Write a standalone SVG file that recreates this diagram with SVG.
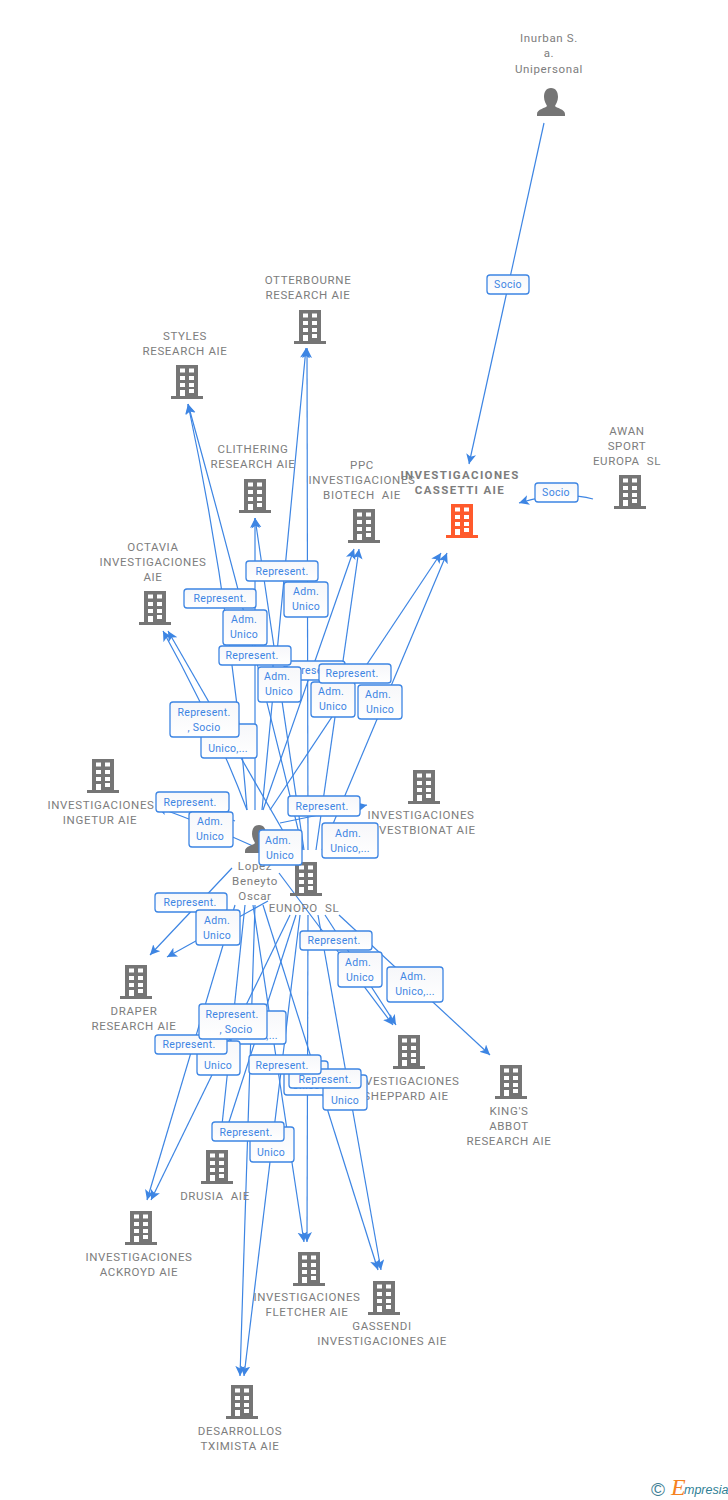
<svg xmlns="http://www.w3.org/2000/svg" width="728" height="1500" viewBox="0 0 728 1500">
<style>
.e{fill:none;stroke:#3d85e3;stroke-width:1.2;marker-end:url(#a)}
.n{font:11.5px Roboto,"Liberation Sans",sans-serif;fill:#7d7d7d;text-anchor:middle;letter-spacing:.65px}
.b{font-weight:700;letter-spacing:1.35px}
.r{fill:url(#g);stroke:#3d85e3;stroke-width:1.3}
.l{font:10.5px Roboto,"Liberation Sans",sans-serif;fill:#3d85e3;text-anchor:middle;letter-spacing:.3px}
</style>
<defs>
<linearGradient id="g" x1="0" y1="0" x2="0" y2="1"><stop offset="0" stop-color="#f6f7fa"/><stop offset="1" stop-color="#fff"/></linearGradient>
<marker id="a" markerUnits="userSpaceOnUse" markerWidth="12" markerHeight="12" refX="10" refY="5" orient="auto"><path d="M0 0L10 5L0 10L2.5 5Z" fill="#3d85e3"/></marker>
<g id="b"><path fill-rule="evenodd" d="M5 0H27V31H32V34H0V31H5ZM9 3.500V7.500H14V3.500ZM18 3.500V7.500H23V3.500ZM9 11V15H14V11ZM18 11V15H23V11ZM9 18V22H14V18ZM18 18V22H23V18ZM9 25V31H14V25ZM18 24V28H23V24Z"/></g>
<g id="p"><path d="M14 0C19 0 21 4 21 9C21 13 19 16 18 18C19 20 28 21 28 26V28H0V26C0 21 9 20 10 18C9 16 7 13 7 9C7 4 9 0 14 0Z"/></g>
</defs>
<g id="connectors">
<path class="e" d="M544 123L469 464"/>
<path class="e" d="M593 499Q560 490 519 503"/>
<path class="e" d="M262 810L306 348"/><path class="e" d="M308 850L307 348"/>
<path class="e" d="M247 810Q231 607 188 404"/><path class="e" d="M303 850Q250 627 188 404"/>
<path class="e" d="M255 810L255 518"/><path class="e" d="M304 850L255 518"/>
<path class="e" d="M263 810L354 549"/><path class="e" d="M316 850L359 549"/>
<path class="e" d="M270 810L441 553"/><path class="e" d="M322 850L447 553"/>
<path class="e" d="M247 810Q215 725 163 631"/><path class="e" d="M294 850L168 631"/>
<path class="e" d="M235 821Q200 806 156 805"/><path class="e" d="M268 853Q215 828 157 807"/>
<path class="e" d="M280 823L367 805"/>
<path class="e" d="M232 868L150 955"/><path class="e" d="M268 901L167 957"/>
<path class="e" d="M279 873L393 1025"/><path class="e" d="M325 915L396 1025"/>
<path class="e" d="M339 915L490 1055"/>
<path class="e" d="M235 905L147 1200"/><path class="e" d="M290 915L151 1200"/>
<path class="e" d="M245 905L222 1125" style="marker-end:none"/><path class="e" d="M296 915L228 1125" style="marker-end:none"/>
<path class="e" d="M253 905L304 1242"/><path class="e" d="M308 915L307 1242"/>
<path class="e" d="M263 905L378 1270"/><path class="e" d="M318 915L381 1270"/>
<path class="e" d="M255 905L240 1376"/><path class="e" d="M300 915L244 1376"/>
</g>
<g id="ingetur"><use href="#b" x="87" y="759" fill="#757575"/><text class="n" x="101" y="809">INVESTIGACIONES</text><text class="n" x="100" y="824">INGETUR AIE</text></g>
<g id="investbionat"><use href="#b" x="408" y="770" fill="#757575"/><text class="n" x="421" y="819">INVESTIGACIONES</text><text class="n" x="421" y="834">INVESTBIONAT AIE</text></g>
<g id="sheppard"><use href="#b" x="393" y="1035" fill="#757575"/><text class="n" x="406" y="1085">INVESTIGACIONES</text><text class="n" x="406" y="1100">SHEPPARD AIE</text></g>
<g id="labels">
<g><rect class="r" x="487" y="275" width="42" height="19" rx="3"/><text class="l" x="508" y="288">Socio</text></g>
<g><rect class="r" x="535" y="483" width="43" height="19" rx="3"/><text class="l" x="556" y="496">Socio</text></g>
<g><rect class="r" x="284" y="582" width="44" height="35" rx="3"/><text class="l" x="306" y="595">Adm.</text><text class="l" x="306" y="610">Unico</text></g>
<g><rect class="r" x="246" y="561" width="72" height="20" rx="3"/><text class="l" x="282" y="575">Represent.</text></g>
<g><rect class="r" x="223" y="610" width="44" height="35" rx="3"/><text class="l" x="244" y="623">Adm.</text><text class="l" x="244" y="638">Unico</text></g>
<g><rect class="r" x="184" y="589" width="72" height="19" rx="3"/><text class="l" x="220" y="602">Represent.</text></g>
<g><rect class="r" x="273" y="661" width="72" height="19" rx="3"/><text class="l" x="309" y="674">Represent.</text></g>
<g><rect class="r" x="258" y="667" width="43" height="35" rx="3"/><text class="l" x="277" y="680">Adm.</text><text class="l" x="279" y="695">Unico</text></g>
<g><rect class="r" x="219" y="646" width="72" height="19" rx="3"/><text class="l" x="252" y="659">Represent.</text></g>
<g><rect class="r" x="311" y="682" width="44" height="35" rx="3"/><text class="l" x="331" y="695">Adm.</text><text class="l" x="333" y="710">Unico</text></g>
<g><rect class="r" x="358" y="685" width="44" height="34" rx="3"/><text class="l" x="378" y="698">Adm.</text><text class="l" x="380" y="713">Unico</text></g>
<g><rect class="r" x="319" y="664" width="72" height="19" rx="3"/><text class="l" x="352" y="677">Represent.</text></g>
<g><rect class="r" x="201" y="724" width="56" height="34" rx="3"/><text class="l" x="228" y="752">Unico,...</text></g>
<g><rect class="r" x="170" y="702" width="69" height="35" rx="3"/><text class="l" x="204" y="716">Represent.</text><text class="l" x="204" y="731">, Socio</text></g>
<g><rect class="r" x="156" y="792" width="73" height="20" rx="3"/><text class="l" x="190" y="806">Represent.</text></g>
<g><rect class="r" x="189" y="812" width="44" height="35" rx="3"/><text class="l" x="210" y="825">Adm.</text><text class="l" x="210" y="840">Unico</text></g>
<g><rect class="r" x="288" y="796" width="72" height="20" rx="3"/><text class="l" x="322" y="810">Represent.</text></g>
<g><rect class="r" x="322" y="823" width="56" height="35" rx="3"/><text class="l" x="348" y="837">Adm.</text><text class="l" x="350" y="852">Unico,...</text></g>
</g>
<g id="lopez"><use href="#p" x="245" y="825" fill="#757575"/><text class="n" x="255" y="870">Lopez</text><text class="n" x="255" y="885">Beneyto</text><text class="n" x="255" y="900">Oscar</text></g>
<g id="eunopo"><use href="#b" x="290" y="862" fill="#757575"/><text class="n" x="304" y="912">EUNOPO &#160;SL</text></g>
<g id="labels2">
<g><rect class="r" x="259" y="830" width="43" height="35" rx="3"/><text class="l" x="278" y="844">Adm.</text><text class="l" x="280" y="859">Unico</text></g>
<g><rect class="r" x="155" y="893" width="72" height="19" rx="3"/><text class="l" x="190" y="906">Represent.</text></g>
<g><rect class="r" x="196" y="910" width="44" height="35" rx="3"/><text class="l" x="217" y="924">Adm.</text><text class="l" x="217" y="939">Unico</text></g>
<g><rect class="r" x="300" y="931" width="72" height="19" rx="3"/><text class="l" x="334" y="944">Represent.</text></g>
<g><rect class="r" x="338" y="952" width="44" height="35" rx="3"/><text class="l" x="358" y="966">Adm.</text><text class="l" x="360" y="981">Unico</text></g>
<g><rect class="r" x="387" y="967" width="56" height="35" rx="3"/><text class="l" x="413" y="980">Adm.</text><text class="l" x="415" y="995">Unico,...</text></g>
<g><rect class="r" x="231" y="1011" width="55" height="33" rx="3"/><text class="l" x="258" y="1039">Unico,...</text></g>
<g><rect class="r" x="197" y="1041" width="43" height="34" rx="3"/><text class="l" x="218" y="1069">Unico</text></g>
<g><rect class="r" x="155" y="1035" width="72" height="19" rx="3"/><text class="l" x="189" y="1048">Represent.</text></g>
<g><rect class="r" x="199" y="1004" width="68" height="35" rx="3"/><text class="l" x="232" y="1018">Represent.</text><text class="l" x="236" y="1033">, Socio</text></g>
<g><rect class="r" x="284" y="1061" width="44" height="34" rx="3"/><text class="l" x="306" y="1089">Unico</text></g>
<g><rect class="r" x="323" y="1075" width="44" height="35" rx="3"/><text class="l" x="345" y="1104">Unico</text></g>
<g><rect class="r" x="289" y="1069" width="72" height="19" rx="3"/><text class="l" x="325" y="1083">Represent.</text></g>
<g><rect class="r" x="249" y="1055" width="72" height="19" rx="3"/><text class="l" x="282" y="1069">Represent.</text></g>
<g><rect class="r" x="250" y="1127" width="44" height="35" rx="3"/><text class="l" x="271" y="1156">Unico</text></g>
<g><rect class="r" x="212" y="1122" width="72" height="19" rx="3"/><text class="l" x="246" y="1136">Represent.</text></g>
</g>
<g id="inurban"><text class="n" x="549" y="42">Inurban S.</text><text class="n" x="549" y="57">a.</text><text class="n" x="549" y="73">Unipersonal</text><use href="#p" x="537" y="88" fill="#757575"/></g>
<g id="otterbourne"><text class="n" x="308" y="284">OTTERBOURNE</text><text class="n" x="308" y="299">RESEARCH AIE</text><use href="#b" x="294" y="310" fill="#757575"/></g>
<g id="styles"><text class="n" x="185" y="340">STYLES</text><text class="n" x="185" y="355">RESEARCH AIE</text><use href="#b" x="171" y="365" fill="#757575"/></g>
<g id="clithering"><text class="n" x="253" y="453">CLITHERING</text><text class="n" x="253" y="468">RESEARCH AIE</text><use href="#b" x="239" y="479" fill="#757575"/></g>
<g id="ppc"><text class="n" x="362" y="469">PPC</text><text class="n" x="362" y="484">INVESTIGACIONES</text><text class="n" x="362" y="499">BIOTECH &#160;AIE</text><use href="#b" x="348" y="509" fill="#757575"/></g>
<g id="cassetti"><text class="n b" x="460" y="479">INVESTIGACIONES</text><text class="n b" x="460" y="494">CASSETTI AIE</text><use href="#b" x="446" y="504" fill="#ff5a2c"/></g>
<g id="awan"><text class="n" x="627" y="435">AWAN</text><text class="n" x="627" y="450">SPORT</text><text class="n" x="627" y="465">EUROPA &#160;SL</text><use href="#b" x="614" y="475" fill="#757575"/></g>
<g id="octavia"><text class="n" x="153" y="551">OCTAVIA</text><text class="n" x="153" y="566">INVESTIGACIONES</text><text class="n" x="153" y="581">AIE</text><use href="#b" x="139" y="591" fill="#757575"/></g>
<g id="draper"><use href="#b" x="120" y="965" fill="#757575"/><text class="n" x="134" y="1015">DRAPER</text><text class="n" x="134" y="1030">RESEARCH AIE</text></g>
<g id="kings"><use href="#b" x="495" y="1065" fill="#757575"/><text class="n" x="509" y="1115">KING'S</text><text class="n" x="509" y="1130">ABBOT</text><text class="n" x="509" y="1145">RESEARCH AIE</text></g>
<g id="drusia"><use href="#b" x="201" y="1150" fill="#757575"/><text class="n" x="215" y="1200">DRUSIA &#160;AIE</text></g>
<g id="ackroyd"><use href="#b" x="125" y="1211" fill="#757575"/><text class="n" x="139" y="1261">INVESTIGACIONES</text><text class="n" x="139" y="1276">ACKROYD AIE</text></g>
<g id="fletcher"><use href="#b" x="293" y="1252" fill="#757575"/><text class="n" x="307" y="1301">INVESTIGACIONES</text><text class="n" x="307" y="1316">FLETCHER AIE</text></g>
<g id="gassendi"><use href="#b" x="368" y="1281" fill="#757575"/><text class="n" x="382" y="1330">GASSENDI</text><text class="n" x="382" y="1345">INVESTIGACIONES AIE</text></g>
<g id="desarrollos"><use href="#b" x="226" y="1385" fill="#757575"/><text class="n" x="240" y="1435">DESARROLLOS</text><text class="n" x="240" y="1450">TXIMISTA AIE</text></g>
<g id="logo"><text x="658" y="1496" style="font:19px 'Liberation Sans',sans-serif;fill:#3f7f96;text-anchor:middle">©</text><text x="671" y="1495" style="font:italic 24px 'Liberation Serif',serif;fill:#f5821f">E</text><text x="684" y="1494" style="font:italic 12.5px 'Liberation Sans',sans-serif;fill:#2f7f96">mpresia</text></g>
</svg>
